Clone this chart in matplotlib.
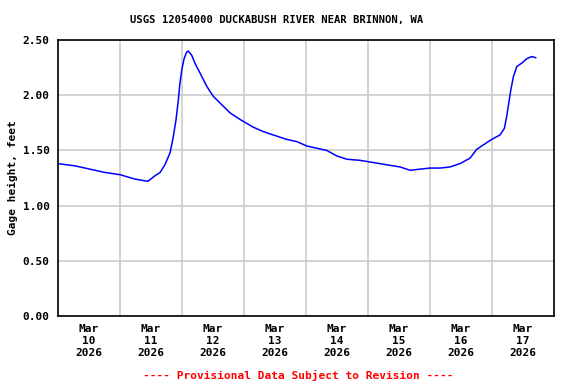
import numpy as np
import matplotlib
matplotlib.use("Agg")
import matplotlib.pyplot as plt
import matplotlib.dates as mdates
from datetime import datetime, timedelta

###################### Data ######################
# Hours since 2026-03-10 00:00 and gage height (feet)
hours = [0, 6.6, 12.4, 18.2, 24, 29.8, 34.8, 37.5, 39.5, 41.4, 43.4, 44.6,
         45.7, 46.6, 47.2, 48.0, 48.8, 49.8, 50.4, 51.8, 53.0, 55.0, 57.6,
         60.1, 62.7, 66.6, 70.5, 75.6, 79.5, 83.3, 88.5, 92.4, 96.3, 100.1,
         104.0, 107.9, 111.8, 116.9, 122.1, 127.2, 132.4, 136.3, 140.1,
         144.0, 147.9, 151.7, 155.6, 159.5, 162.1, 165.3, 167.9, 171.1,
         172.8, 173.7, 174.7, 175.3, 176.3, 177.6, 179.5, 181.4, 183.4, 184.9]
gage = [1.38, 1.36, 1.33, 1.30, 1.28, 1.24, 1.22, 1.27, 1.30, 1.37, 1.48, 1.62,
        1.78, 1.96, 2.11, 2.24, 2.33, 2.39, 2.40, 2.36, 2.29, 2.20, 2.08,
        1.99, 1.93, 1.84, 1.78, 1.71, 1.67, 1.64, 1.60, 1.58, 1.54, 1.52,
        1.50, 1.45, 1.42, 1.41, 1.39, 1.37, 1.35, 1.32, 1.33,
        1.34, 1.34, 1.35, 1.38, 1.43, 1.51, 1.56, 1.60, 1.64,
        1.70, 1.81, 1.96, 2.05, 2.17, 2.26, 2.29, 2.33, 2.35, 2.34]
yticks = [0.0, 0.5, 1.0, 1.5, 2.0, 2.5]
ytick_labels = ["0.00", "0.50", "1.00", "1.50", "2.00", "2.50"]

title = "USGS 12054000 DUCKABUSH RIVER NEAR BRINNON, WA"
ylabel = "Gage height, feet"
note = "---- Provisional Data Subject to Revision ----"
###################################################

start = datetime(2026, 3, 10)
times = [start + timedelta(hours=h) for h in hours]

font = "DejaVu Sans Mono"
plt.rcParams['font.family'] = font
plt.rcParams['font.weight'] = 'bold'

fig = plt.figure(figsize=(5.76, 3.84), dpi=100)
ax = fig.add_axes([58/576, 68/384, 496/576, 276/384])

ax.plot(times, gage, color="#0000ff", linewidth=1.1)

ax.set_xlim(start, start + timedelta(days=8))
ax.set_ylim(0, 2.5)

# labels at noon, grid at midnight
ax.xaxis.set_major_locator(mdates.HourLocator(byhour=[12]))
ax.xaxis.set_major_formatter(mdates.DateFormatter("%b\n%d\n%Y"))
ax.xaxis.set_minor_locator(mdates.DayLocator())
ax.grid(which="minor", axis="x", color="#cccccc", linewidth=1.2)
ax.grid(which="major", axis="y", color="#cccccc", linewidth=1.2)
ax.grid(which="major", axis="x", visible=False)

ax.set_yticks(yticks)
ax.set_yticklabels(ytick_labels)
ax.tick_params(axis="both", which="both", length=0, labelsize=8)
ax.tick_params(axis="y", pad=6)
ax.tick_params(axis="x", pad=6)
for lab in ax.get_xticklabels() + ax.get_yticklabels():
    lab.set_fontweight("bold")

for s in ax.spines.values():
    s.set_linewidth(1.2)
    s.set_color("black")

ax.set_ylabel(ylabel, fontsize=8, fontweight="bold", labelpad=3)
fig.text(277/576, 1 - 20/384, title, ha="center", va="center",
         fontsize=7.6, fontweight="bold")
fig.text(298/576, 1 - 375/384, note, ha="center", va="center",
         fontsize=8, fontweight="bold", color="red")

fig.savefig("out.png", dpi=100)
